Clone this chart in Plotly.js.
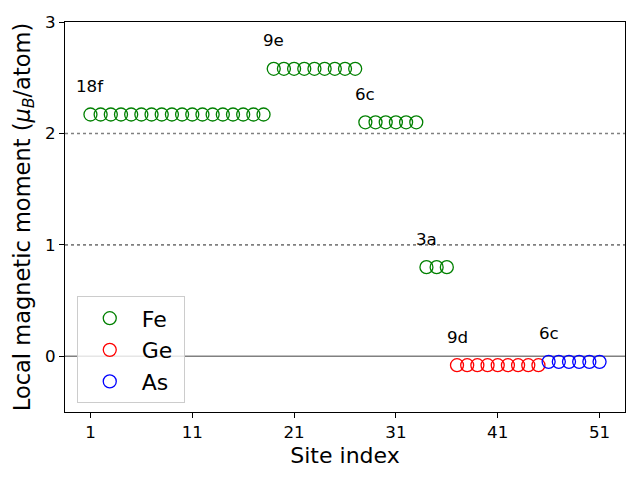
<!DOCTYPE html>
<html>
<head>
<meta charset="utf-8">
<script src="https://cdn.plot.ly/plotly-3.0.1.min.js"></script>
<style>html,body{margin:0;padding:0;background:#fff}#chart{width:640px;height:480px}</style>
</head>
<body>
<div id="chart"></div>
<script>
// Site indices and local magnetic moments (mu_B/atom)
const feSites = [1,2,3,4,5,6,7,8,9,10,11,12,13,14,15,16,17,18,
                 19,20,21,22,23,24,25,26,27,
                 28,29,30,31,32,33,
                 34,35,36];
const feMoments = [2.17,2.17,2.17,2.17,2.17,2.17,2.17,2.17,2.17,2.17,2.17,2.17,2.17,2.17,2.17,2.17,2.17,2.17,
                   2.58,2.58,2.58,2.58,2.58,2.58,2.58,2.58,2.58,
                   2.10,2.10,2.10,2.10,2.10,2.10,
                   0.80,0.80,0.80];
const geSites = [37,38,39,40,41,42,43,44,45];
const geMoments = [-0.08,-0.08,-0.08,-0.08,-0.08,-0.08,-0.08,-0.08,-0.08];
const asSites = [46,47,48,49,50,51];
const asMoments = [-0.05,-0.05,-0.05,-0.05,-0.05,-0.05];

// Wyckoff labels: text, first site index, moment of the group
const wyckoffLabels = ["18f","9e","6c","3a","9d","6c"];
const wyckoffSites  = [1,19,28,34,37,46];
const wyckoffMoments = [2.17,2.58,2.10,0.80,-0.08,-0.05];

const xTicks = [1,11,21,31,41,51];
const yTicks = [0,1,2,3];
const refLines = [0,1,2];

const font = "DejaVu Sans, sans-serif";

function series(name, x, y, color) {
  return {
    type: "scatter", mode: "markers", name: name + "\u2005", x: x, y: y,
    marker: {symbol: "circle-open", size: 13, color: color, line: {width: 1.3, color: color}},
    hoverinfo: "skip"
  };
}

const data = [
  series("Fe", feSites, feMoments, "green"),
  series("Ge", geSites, geMoments, "red"),
  series("As", asSites, asMoments, "blue")
];

const shapes = refLines.map(v => ({
  type: "line", xref: "paper", yref: "y", x0: 0, x1: 1, y0: v, y1: v,
  layer: "below",
  line: {color: "gray", width: 1.6, dash: v === 0 ? "solid" : "dot"}
}));

const annotations = wyckoffLabels.map((t, i) => ({
  text: t, x: wyckoffSites[i], y: wyckoffMoments[i] + 0.255, xref: "x", yref: "y",
  showarrow: false, xanchor: "center", yanchor: "middle",
  font: {family: font, size: 16.7, color: "black"}
}));

const layout = {
  width: 640, height: 480,
  margin: {l: 65, r: 15, t: 22, b: 68},
  paper_bgcolor: "white", plot_bgcolor: "white",
  showlegend: true,
  legend: {
    x: 0.021, y: 0.022, xanchor: "left", yanchor: "bottom",
    itemwidth: 54,
    bgcolor: "rgba(255,255,255,0.8)", bordercolor: "#cccccc", borderwidth: 1,
    font: {family: font, size: 22, color: "black"}
  },
  xaxis: {
    range: [-1.5, 53.5], tickmode: "array", tickvals: xTicks,
    ticks: "outside", ticklen: 5, tickcolor: "black", showgrid: false, zeroline: false,
    showline: true, mirror: true, linecolor: "black", linewidth: 1,
    tickfont: {family: font, size: 16.7, color: "black"},
    title: {text: "Site index", font: {family: font, size: 22, color: "black"}, standoff: 6}
  },
  yaxis: {
    range: [-0.5, 3], tickmode: "array", tickvals: yTicks,
    ticks: "outside", ticklen: 5, tickcolor: "black", showgrid: false, zeroline: false,
    showline: true, mirror: true, linecolor: "black", linewidth: 1,
    tickfont: {family: font, size: 16.7, color: "black"},
    title: {text: "Local magnetic moment (<i>μ</i><sub><i>B</i></sub>/atom)", font: {family: font, size: 22.5, color: "black"}, standoff: 8}
  },
  shapes: shapes,
  annotations: annotations
};

Plotly.newPlot("chart", data, layout, {displayModeBar: false, staticPlot: true});
</script>
</body>
</html>
